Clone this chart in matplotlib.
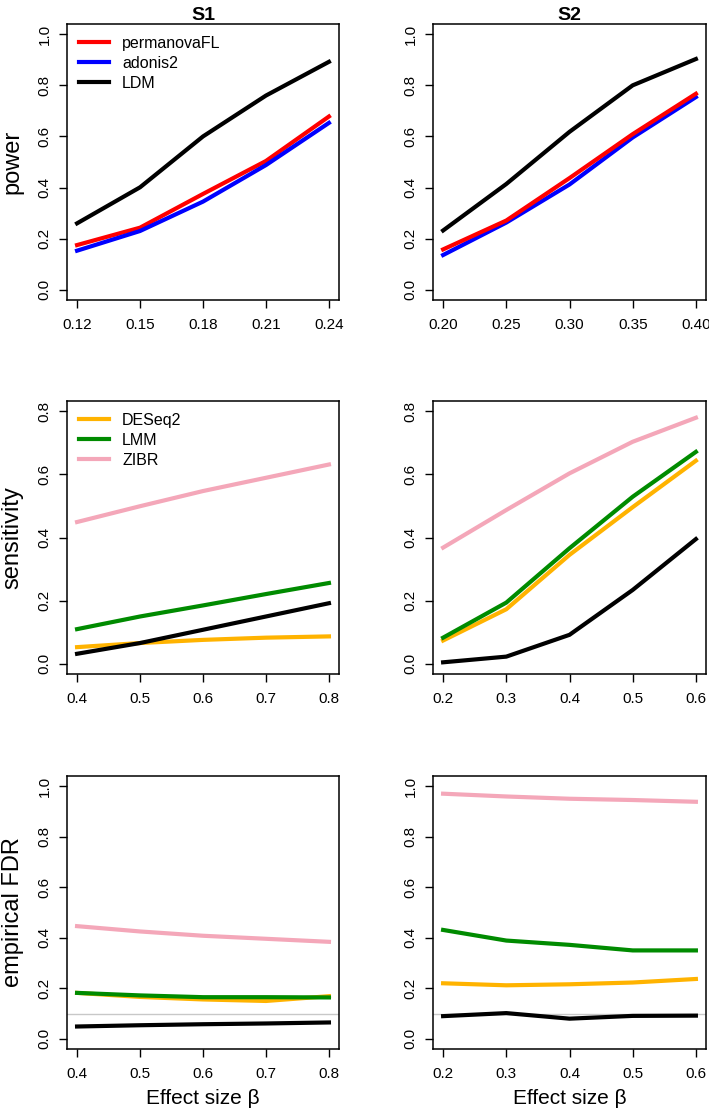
import matplotlib
matplotlib.use("Agg")
import matplotlib.pyplot as plt

plt.rcParams['font.family'] = ['Liberation Sans', 'DejaVu Sans']

# effect sizes
x_power_s1 = [0.12, 0.15, 0.18, 0.21, 0.24]
x_power_s2 = [0.20, 0.25, 0.30, 0.35, 0.40]
x_taxa_s1 = [0.4, 0.5, 0.6, 0.7, 0.8]
x_taxa_s2 = [0.2, 0.3, 0.4, 0.5, 0.6]

# power (community-level tests)
permanovaFL_s1 = [0.175, 0.243, 0.375, 0.504, 0.678]
adonis2_s1 = [0.153, 0.230, 0.345, 0.488, 0.653]
ldm_power_s1 = [0.260, 0.401, 0.600, 0.760, 0.892]
permanovaFL_s2 = [0.158, 0.271, 0.437, 0.609, 0.767]
adonis2_s2 = [0.136, 0.263, 0.412, 0.596, 0.754]
ldm_power_s2 = [0.232, 0.414, 0.618, 0.800, 0.903]

# sensitivity (taxon-level tests)
deseq2_sens_s1 = [0.053, 0.066, 0.076, 0.083, 0.087]
lmm_sens_s1 = [0.110, 0.150, 0.185, 0.221, 0.256]
zibr_sens_s1 = [0.449, 0.499, 0.547, 0.589, 0.631]
ldm_sens_s1 = [0.032, 0.066, 0.108, 0.150, 0.192]
deseq2_sens_s2 = [0.074, 0.173, 0.345, 0.496, 0.643]
lmm_sens_s2 = [0.083, 0.194, 0.366, 0.529, 0.671]
zibr_sens_s2 = [0.368, 0.487, 0.603, 0.703, 0.779]
ldm_sens_s2 = [0.005, 0.023, 0.092, 0.234, 0.395]

# empirical FDR
deseq2_fdr_s1 = [0.182, 0.166, 0.156, 0.150, 0.169]
lmm_fdr_s1 = [0.182, 0.172, 0.165, 0.165, 0.164]
zibr_fdr_s1 = [0.446, 0.425, 0.408, 0.396, 0.384]
ldm_fdr_s1 = [0.049, 0.054, 0.058, 0.061, 0.065]
deseq2_fdr_s2 = [0.220, 0.212, 0.216, 0.223, 0.237]
lmm_fdr_s2 = [0.431, 0.389, 0.372, 0.350, 0.350]
zibr_fdr_s2 = [0.970, 0.959, 0.950, 0.945, 0.938]
ldm_fdr_s2 = [0.090, 0.102, 0.080, 0.091, 0.092]
nominal_fdr = 0.1

RED, BLUE, BLACK = "#FF0000", "#0000FF", "#000000"
ORANGE, GREEN, PINK = "#FFB300", "#008B00", "#F4A7B9"
LW = 3.0

W, H = 709, 1111
fig = plt.figure(figsize=(W / 100, H / 100), dpi=100)


def add_panel(left, top, right, bottom):
    return fig.add_axes([left / W, 1 - bottom / H, (right - left) / W, (bottom - top) / H])


def style(ax, xs, ymax, yticks, xfmt):
    # R adds 4% padding on each side
    pad = (xs[-1] - xs[0]) * 0.04
    ax.set_xlim(xs[0] - pad, xs[-1] + pad)
    ax.set_ylim(-0.04 * ymax, ymax * 1.04)
    ax.set_xticks(xs)
    ax.set_xticklabels([xfmt % v for v in xs], fontsize=11)
    ax.set_yticks(yticks)
    ax.set_yticklabels(["%.1f" % v for v in yticks], fontsize=11, rotation=90, va="center")
    ax.tick_params(direction="out", length=6, width=1, pad=5)
    ax.tick_params(axis="x", pad=7)
    for s in ax.spines.values():
        s.set_linewidth(1.1)


def add_legend(ax):
    ax.legend(loc="upper left", frameon=False, fontsize=11.5, handlelength=1.9,
              borderpad=0.35, borderaxespad=0.4, labelspacing=0.3, handletextpad=0.8)


cols_x = [(67, 339), (433, 706)]
rows_y = [(24, 300), (401, 674), (776, 1049)]

axes = [[add_panel(cols_x[c][0], rows_y[r][0], cols_x[c][1], rows_y[r][1]) for c in range(2)] for r in range(3)]

# row 1: power
ax = axes[0][0]
ax.plot(x_power_s1, permanovaFL_s1, color=RED, lw=LW, label="permanovaFL")
ax.plot(x_power_s1, adonis2_s1, color=BLUE, lw=LW, label="adonis2")
ax.plot(x_power_s1, ldm_power_s1, color=BLACK, lw=LW, label="LDM")
style(ax, x_power_s1, 1.0, [0, 0.2, 0.4, 0.6, 0.8, 1.0], "%.2f")
ax.set_ylabel("power", fontsize=17, labelpad=10)
ax.set_title("S1", fontsize=14, fontweight="bold", pad=3)
add_legend(ax)

ax = axes[0][1]
ax.plot(x_power_s2, ldm_power_s2, color=BLACK, lw=LW)
ax.plot(x_power_s2, adonis2_s2, color=BLUE, lw=LW)
ax.plot(x_power_s2, permanovaFL_s2, color=RED, lw=LW)
style(ax, x_power_s2, 1.0, [0, 0.2, 0.4, 0.6, 0.8, 1.0], "%.2f")
ax.set_title("S2", fontsize=14, fontweight="bold", pad=3)

# row 2: sensitivity
ax = axes[1][0]
ax.plot(x_taxa_s1, deseq2_sens_s1, color=ORANGE, lw=LW, label="DESeq2")
ax.plot(x_taxa_s1, lmm_sens_s1, color=GREEN, lw=LW, label="LMM")
ax.plot(x_taxa_s1, zibr_sens_s1, color=PINK, lw=LW, label="ZIBR")
ax.plot(x_taxa_s1, ldm_sens_s1, color=BLACK, lw=LW)
style(ax, x_taxa_s1, 0.8, [0, 0.2, 0.4, 0.6, 0.8], "%.1f")
ax.set_ylabel("sensitivity", fontsize=17, labelpad=10)
add_legend(ax)

ax = axes[1][1]
ax.plot(x_taxa_s2, zibr_sens_s2, color=PINK, lw=LW)
ax.plot(x_taxa_s2, deseq2_sens_s2, color=ORANGE, lw=LW)
ax.plot(x_taxa_s2, lmm_sens_s2, color=GREEN, lw=LW)
ax.plot(x_taxa_s2, ldm_sens_s2, color=BLACK, lw=LW)
style(ax, x_taxa_s2, 0.8, [0, 0.2, 0.4, 0.6, 0.8], "%.1f")

# row 3: empirical FDR, grey line = nominal level
for ax, xs, de, lm, zi, ld in [
    (axes[2][0], x_taxa_s1, deseq2_fdr_s1, lmm_fdr_s1, zibr_fdr_s1, ldm_fdr_s1),
    (axes[2][1], x_taxa_s2, deseq2_fdr_s2, lmm_fdr_s2, zibr_fdr_s2, ldm_fdr_s2),
]:
    ax.axhline(nominal_fdr, color="#C8C8C8", lw=1.0)
    ax.plot(xs, zi, color=PINK, lw=LW)
    ax.plot(xs, de, color=ORANGE, lw=LW)
    ax.plot(xs, lm, color=GREEN, lw=LW)
    ax.plot(xs, ld, color=BLACK, lw=LW)
    style(ax, xs, 1.0, [0, 0.2, 0.4, 0.6, 0.8, 1.0], "%.1f")
    ax.set_xlabel("Effect size \u03b2", fontsize=15, labelpad=6)

axes[2][0].set_ylabel("empirical FDR", fontsize=17, labelpad=10)

fig.savefig("out.png", dpi=100)
